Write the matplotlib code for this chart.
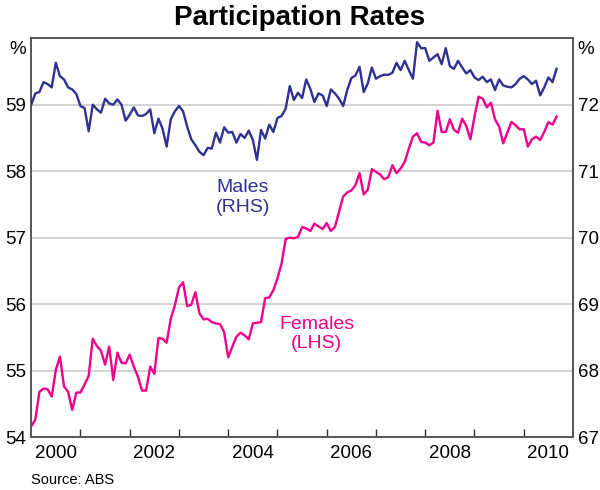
import numpy as np
import matplotlib
matplotlib.use("Agg")
import matplotlib.pyplot as plt
from matplotlib.ticker import FixedLocator, NullFormatter
from matplotlib.transforms import ScaledTranslation

plt.rcParams['font.family'] = ['Liberation Sans', 'DejaVu Sans']

# monthly, Jan 2000 - Sep 2010
start_year = 2000.0
males = [
    72.00, 72.17, 72.19, 72.34, 72.31, 72.26, 72.63, 72.43, 72.38, 72.26, 72.23, 72.16,
    71.98, 71.95, 71.60, 72.00, 71.93, 71.88, 72.09, 72.02, 72.00, 72.08, 72.00, 71.76,
    71.85, 71.96, 71.84, 71.83, 71.86, 71.93, 71.57, 71.79, 71.64, 71.37, 71.78, 71.90,
    71.98, 71.90, 71.67, 71.48, 71.39, 71.29, 71.24, 71.35, 71.34, 71.58, 71.43, 71.66,
    71.58, 71.59, 71.43, 71.56, 71.50, 71.61, 71.47, 71.17, 71.62, 71.49, 71.70, 71.59,
    71.80, 71.83, 71.94, 72.28, 72.07, 72.18, 72.10, 72.38, 72.24, 72.04, 72.17, 72.14,
    71.98, 72.23, 72.17, 72.09, 71.98, 72.22, 72.40, 72.44, 72.57, 72.19, 72.32, 72.56,
    72.39, 72.43, 72.45, 72.45, 72.48, 72.63, 72.52, 72.66, 72.52, 72.39, 72.94, 72.85,
    72.85, 72.66, 72.71, 72.76, 72.61, 72.85, 72.58, 72.54, 72.66, 72.56, 72.47, 72.52,
    72.41, 72.37, 72.42, 72.34, 72.38, 72.22, 72.38, 72.29, 72.27, 72.26, 72.31, 72.39,
    72.43, 72.38, 72.31, 72.36, 72.14, 72.26, 72.41, 72.34, 72.54,
]
females = [
    54.16, 54.26, 54.68, 54.73, 54.72, 54.61, 55.01, 55.21, 54.76, 54.68, 54.41, 54.67,
    54.67, 54.79, 54.92, 55.48, 55.37, 55.30, 55.09, 55.36, 54.86, 55.27, 55.12, 55.11,
    55.24, 55.06, 54.91, 54.70, 54.70, 55.06, 54.95, 55.49, 55.48, 55.42, 55.78, 55.98,
    56.25, 56.33, 55.97, 55.99, 56.18, 55.86, 55.77, 55.78, 55.73, 55.71, 55.70, 55.58,
    55.20, 55.36, 55.51, 55.57, 55.53, 55.47, 55.71, 55.72, 55.73, 56.09, 56.10, 56.21,
    56.39, 56.61, 56.98, 57.00, 56.99, 57.01, 57.16, 57.14, 57.10, 57.21, 57.17, 57.13,
    57.22, 57.10, 57.16, 57.39, 57.62, 57.68, 57.71, 57.79, 57.97, 57.65, 57.72, 58.03,
    57.99, 57.95, 57.88, 57.91, 58.09, 57.97, 58.04, 58.14, 58.34, 58.52, 58.57, 58.44,
    58.43, 58.39, 58.43, 58.91, 58.59, 58.59, 58.78, 58.62, 58.58, 58.79, 58.68, 58.48,
    58.82, 59.12, 59.09, 58.96, 59.03, 58.78, 58.67, 58.42, 58.58, 58.74, 58.69, 58.63,
    58.63, 58.37, 58.48, 58.52, 58.47, 58.59, 58.74, 58.70, 58.82,
]
left_ticks = [54, 55, 56, 57, 58, 59, 60]
right_ticks = [67, 68, 69, 70, 71, 72, 73]
year_labels = ["2000", "", "2002", "", "2004", "", "2006", "", "2008", "", "2010"]

navy = "#2e3192"
pink = "#ec008c"

t = start_year + np.arange(len(males)) / 12.0

fig = plt.figure(figsize=(6, 4.9), dpi=100)
ax = fig.add_axes([0.052, 0.108, 0.903, 0.814])
ax2 = ax.twinx()

ax.plot(t, females, color=pink, lw=1.7, zorder=3)
ax2.plot(t, males, color=navy, lw=1.7, zorder=3)

ax.set_xlim(2000, 2011)
ax.set_ylim(54, 60)
ax2.set_ylim(67, 73)

ax.set_yticks(left_ticks)
ax.set_yticklabels([str(v) for v in left_ticks[:-1]] + ["%"])
ax2.set_yticks(right_ticks)
ax2.set_yticklabels([str(v) for v in right_ticks[:-1]] + ["%"])
for a in (ax, ax2):
    a.tick_params(axis='y', length=0, labelsize=13.5, pad=3.5)
    # shift the "%" unit label a little below the top edge
    lab = a.get_yticklabels()[-1]
    lab.set_transform(lab.get_transform() + ScaledTranslation(0, -7 / 72, fig.dpi_scale_trans))
ax.grid(axis='y', color="#cccccc", lw=1.2, zorder=0)
ax.set_axisbelow(True)

ax.xaxis.set_major_locator(FixedLocator(np.arange(2001, 2011)))
ax.xaxis.set_major_formatter(NullFormatter())
ax.xaxis.set_minor_locator(FixedLocator(np.arange(2000, 2011) + 0.5))
ax.set_xticklabels(year_labels, minor=True)
ax.tick_params(axis='x', which='major', direction='in', length=6, width=1, color="#333333")
ax.tick_params(axis='x', which='minor', length=0, labelsize=13.5, pad=6)

for a in (ax, ax2):
    for s in a.spines.values():
        s.set_color("#555555")
        s.set_linewidth(1.2)

ax.text(0.39, 0.60, "Males\n(RHS)", transform=ax.transAxes, color=navy,
        fontsize=14, ha='center', va='center', linespacing=1.2)
ax.text(0.527, 0.258, "Females\n(LHS)", transform=ax.transAxes, color=pink,
        fontsize=14, ha='center', va='center', linespacing=1.2)

fig.suptitle("Participation Rates", x=0.5, y=0.99, fontsize=20, fontweight='bold')
fig.text(0.052, 0.012, "Source: ABS", fontsize=10.5)

fig.savefig("out.png", dpi=100)
